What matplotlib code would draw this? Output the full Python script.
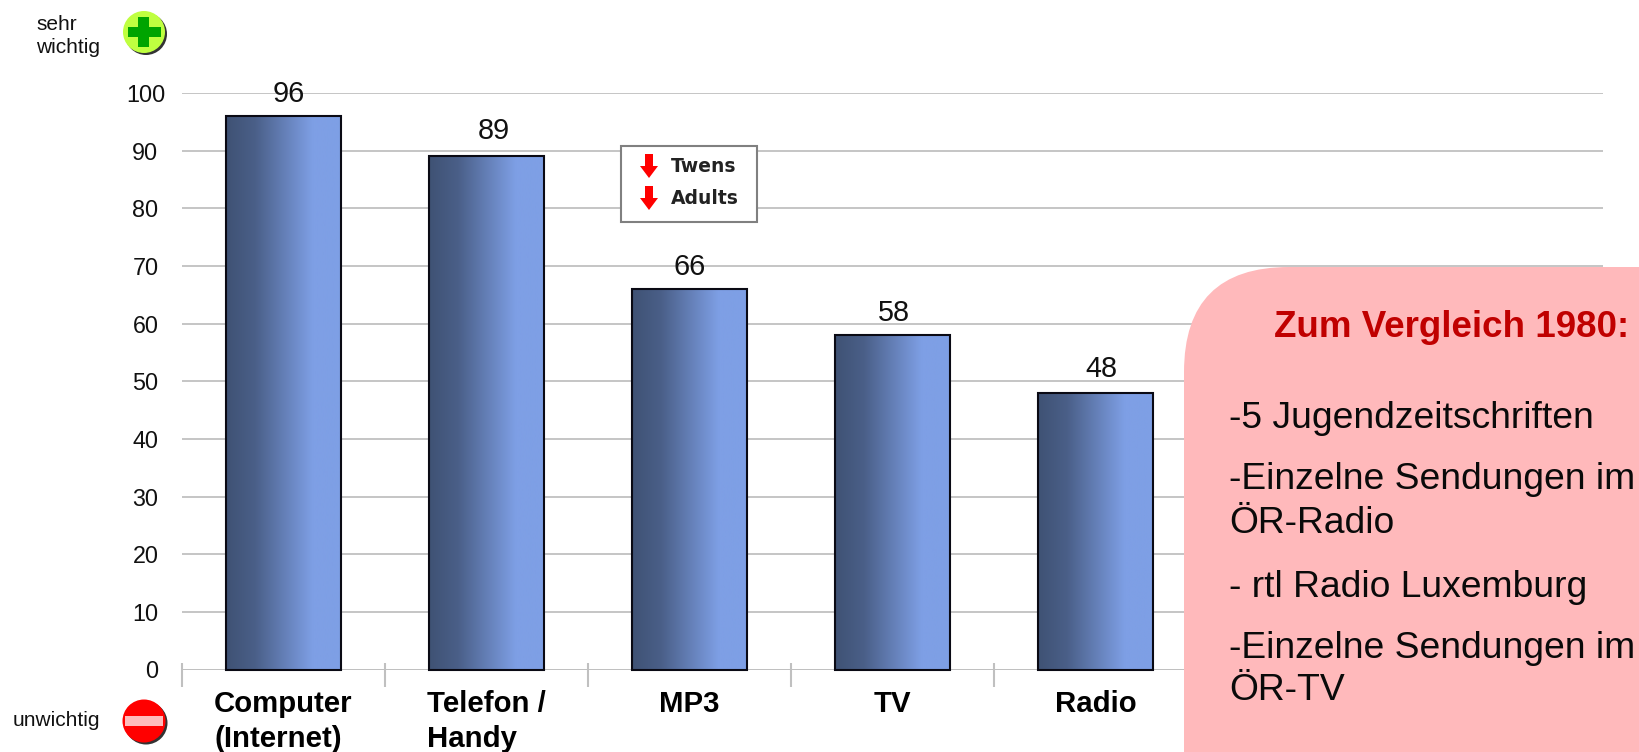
import numpy as np
import matplotlib
matplotlib.use('Agg')
import matplotlib.pyplot as plt
from matplotlib.colors import LinearSegmentedColormap
from matplotlib.patches import Circle, FancyBboxPatch, Polygon, Rectangle
from matplotlib.transforms import ScaledTranslation

plt.rcParams['font.family'] = ['Liberation Sans', 'DejaVu Sans']

# dati
categories = ['Computer\n(Internet)', 'Telefon /\nHandy', 'MP3', 'TV', 'Radio']
values = [96, 89, 66, 58, 48]
yticks = list(range(0, 101, 10))
box_title = 'Zum Vergleich 1980:'
box_lines = ['-5 Jugendzeitschriften', '-Einzelne Sendungen im', 'ÖR-Radio',
             '- rtl Radio Luxemburg', '-Einzelne Sendungen im', 'ÖR-TV']
legend_labels = ['Twens', 'Adults']

W, H = 1639, 752
fig = plt.figure(figsize=(W / 100, H / 100), dpi=100, facecolor='white')
ax = fig.add_axes([182 / W, 1 - 669.5 / H, (1603 - 182) / W, (669.5 - 93) / H])

grid_col = '#C0C0C0'
for s in ax.spines.values():
    s.set_visible(False)
ax.set_axisbelow(True)
ax.yaxis.grid(True, color=grid_col, lw=1.3)
ax.set_yticks(yticks)
ax.tick_params(axis='y', length=0, pad=17, labelsize=16.8, labelcolor='#111111')
# il "100" nell'originale sporge a destra
top_label = ax.get_yticklabels()[-1]
top_label.set_transform(top_label.get_transform() + ScaledTranslation(7 / 100, 0, fig.dpi_scale_trans))

# barre con gradiente
x = np.arange(len(values))
bar_w = 0.568
cmap = LinearSegmentedColormap.from_list('bar', [(0, '#3F5274'), (0.25, '#4A5F88'),
                                                 (0.75, '#7E9FE5'), (1, '#7E9FE5')])
grad = np.linspace(0, 1, 256).reshape(1, -1)
bars = ax.bar(x, values, width=bar_w, facecolor='none', edgecolor='#0A0A14', lw=1.5,
              zorder=3, clip_on=False)
for b in bars:
    im = ax.imshow(grad, cmap=cmap, aspect='auto', zorder=2,
                   extent=[b.get_x(), b.get_x() + b.get_width(), 0, b.get_height()])
    im.set_clip_path(b.get_path(), transform=b.get_transform())

ax.set_xlim(-0.5, 6.5)
ax.set_ylim(0, 100)

# asse x: tacche ai bordi, etichette al centro
edges = np.arange(-0.5, 7)
ax.set_xticks(edges)
ax.set_xticklabels([])
ax.tick_params(axis='x', which='major', length=12.5, width=1.5, color=grid_col)
ax.vlines(edges, 0, 1.1, color=grid_col, lw=1.5, zorder=1, clip_on=False)
ax.axhline(0, color=grid_col, lw=2, zorder=1)
ax.set_xticks(x, minor=True)
ax.set_xticklabels(categories, minor=True, fontsize=21.2, fontweight='bold',
                   ma='left', linespacing=1.32, color='black')
ax.tick_params(axis='x', which='minor', length=0, pad=15)

for xi, v, dx, dy in zip(x, values, [4, 5, 0, 1, 4], [10, 12.5, 10, 10, 11.5]):
    ax.annotate(str(v), (xi, v), xytext=(dx, dy), textcoords='offset points',
                ha='center', va='baseline', fontsize=20.8, color='#111111')

# livello decorativo in pixel
ov = fig.add_axes([0, 0, 1, 1], zorder=5)
ov.set_xlim(0, W)
ov.set_ylim(H, 0)
ov.axis('off')
ov.patch.set_alpha(0)

# riquadro rosa
ov.add_patch(FancyBboxPatch((1184, 267), 600, 600, boxstyle='round,pad=0,rounding_size=105',
                            fc='#FFB9BB', ec='none'))
ov.text(1274, 337, box_title, fontsize=26.5, fontweight='bold', color='#C00000', va='baseline')
for y, line in zip([428, 489, 533, 597, 658, 700], box_lines):
    ov.text(1229, y, line, fontsize=26.8, color='#0A0A0A', va='baseline')

# legenda
ov.add_patch(Rectangle((621, 146), 136, 76, fc='white', ec='#808080', lw=1.5))
for (ya, yt), lab in zip([(154, 166), (186, 198)], legend_labels):
    ov.add_patch(Polygon([(645, ya), (653, ya), (653, ya + 12), (658, ya + 12), (649, ya + 24),
                          (640, ya + 12), (645, ya + 12)], fc='#FF0000', ec='none'))
    ov.text(671, yt, lab, fontsize=13.5, fontweight='bold', family='DejaVu Sans',
            color='#222222', va='center')

# icona piu
ov.add_patch(Circle((146, 34), 21, fc='#333333', ec='none'))
ov.add_patch(Circle((144, 32), 21, fc='#BFFF40', ec='none'))
ov.add_patch(Rectangle((128, 27), 33, 10, fc='#00A400', ec='none'))
ov.add_patch(Rectangle((138, 17), 11, 30, fc='#00A400', ec='none'))
ov.text(36, 30, 'sehr', fontsize=15, color='#111111', va='baseline')
ov.text(36, 53, 'wichtig', fontsize=15, color='#111111', va='baseline')

# icona meno
ov.add_patch(Circle((146, 723), 21.5, fc='#333333', ec='none'))
ov.add_patch(Circle((144, 721), 21.5, fc='#FF0000', ec='none'))
ov.add_patch(Rectangle((125, 716), 38, 10, fc='#FFBBBB', ec='none'))
ov.text(13, 726, 'unwichtig', fontsize=15, color='#111111', va='baseline')

fig.savefig('out.png', dpi=100)
